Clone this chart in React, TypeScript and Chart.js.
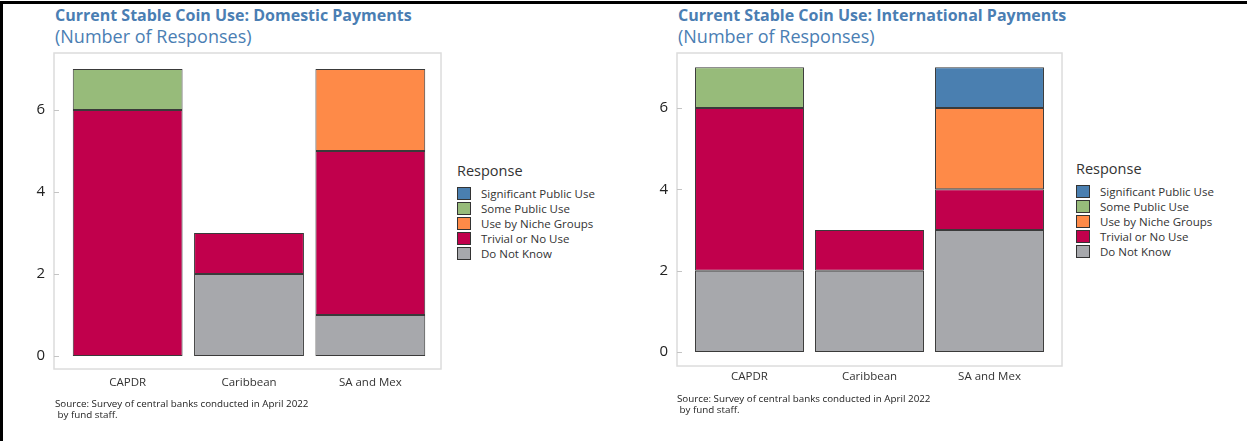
import React, { useEffect, useRef } from "react";
import { Chart, registerables } from "chart.js";

Chart.register(...registerables);

// ---------- data ----------
const CATEGORIES = ["CAPDR", "Caribbean", "SA and Mex"];

const RESPONSES = [
  "Significant Public Use",
  "Some Public Use",
  "Use by Niche Groups",
  "Trivial or No Use",
  "Do Not Know",
];
const RESPONSE_COLORS = ["#4a7fb0", "#97bb7a", "#fe8a48", "#c1004c", "#a7a8ac"];

// Domestic payments (number of responses)
const DOMESTIC_SIGNIFICANT = [0, 0, 0];
const DOMESTIC_SOME = [1, 0, 0];
const DOMESTIC_NICHE = [0, 0, 2];
const DOMESTIC_TRIVIAL = [6, 1, 4];
const DOMESTIC_DNK = [0, 2, 1];

// International payments (number of responses)
const INTL_SIGNIFICANT = [0, 0, 1];
const INTL_SOME = [1, 0, 0];
const INTL_NICHE = [0, 0, 2];
const INTL_TRIVIAL = [4, 1, 1];
const INTL_DNK = [2, 2, 3];

const Y_TICKS = [0, 2, 4, 6];

const TITLE_DOMESTIC = "Current Stable Coin Use: Domestic Payments";
const TITLE_INTL = "Current Stable Coin Use: International Payments";
const SUBTITLE = "(Number of Responses)";
const SOURCE_LINE1 = "Source: Survey of central banks conducted in April 2022";
const SOURCE_LINE2 = " by fund staff.";
const LEGEND_TITLE = "Response";

const FONT = "'Open Sans', 'Noto Sans', sans-serif";
const TITLE_COLOR = "#4a7eb3";

type Geo = {
  x: number;
  y: number;
  w: number;
  h: number;
  yAxisW: number;
  padTop: number;
  padRight: number;
  xAxisH: number;
  xPad: number;
  yPad: number;
  panelL: number;
  panelR: number;
  min: number;
  max: number;
  barPct: number;
};

function StackedChart({ series, geo }: { series: number[][]; geo: Geo }) {
  const ref = useRef<HTMLCanvasElement>(null);
  useEffect(() => {
    const canvas = ref.current!;
    const panelPlugin = {
      id: "panel",
      beforeDatasetsDraw(chart: any) {
        const { ctx, chartArea } = chart;
        const ys = chart.scales.y;
        const l = chartArea.left - geo.panelL;
        const r = chartArea.right + geo.panelR;
        ctx.save();
        ctx.strokeStyle = "#dcdcdc";
        ctx.lineWidth = 1.5;
        ctx.strokeRect(l, chartArea.top, r - l, chartArea.bottom - chartArea.top);
        ctx.strokeStyle = "#c4c4c4";
        ctx.lineWidth = 1;
        Y_TICKS.forEach((v) => {
          const py = Math.round(ys.getPixelForValue(v)) + 0.5;
          ctx.beginPath();
          ctx.moveTo(l, py);
          ctx.lineTo(l + 5, py);
          ctx.stroke();
        });
        ctx.restore();
      },
    };
    // bottom-first stacking order: Do Not Know, Trivial, Niche, Some, Significant
    const order = [4, 3, 2, 1, 0];
    const chart = new Chart(canvas, {
      type: "bar",
      data: {
        labels: CATEGORIES,
        datasets: order.map((i) => ({
          label: RESPONSES[i],
          data: series[i].map((v) => (v === 0 ? null : v)),
          backgroundColor: RESPONSE_COLORS[i],
          borderColor: "#3a3a3a",
          borderWidth: 1,
          borderSkipped: false,
          barPercentage: geo.barPct,
          categoryPercentage: 1,
        })),
      },
      options: {
        responsive: false,
        animation: false,
        devicePixelRatio: 1,
        layout: { padding: { top: geo.padTop, right: geo.padRight, left: 0, bottom: 0 } },
        plugins: {
          legend: { display: false },
          tooltip: { enabled: false },
          title: { display: false },
        },
        scales: {
          x: {
            stacked: true,
            grid: { display: false, drawTicks: false },
            border: { display: false },
            ticks: {
              color: "#333",
              font: { family: FONT, size: 11.5 },
              padding: geo.xPad,
              maxRotation: 0,
            },
            afterFit: (s: any) => {
              s.height = geo.xAxisH;
              s.paddingLeft = 0;
              s.paddingRight = 0;
            },
          },
          y: {
            stacked: true,
            min: geo.min,
            max: geo.max,
            grid: { display: false, drawTicks: false },
            border: { display: false },
            afterBuildTicks: (s: any) => {
              s.ticks = Y_TICKS.map((v) => ({ value: v }));
            },
            ticks: {
              color: "#222",
              font: { family: FONT, size: 15 },
              padding: geo.yPad,
            },
            afterFit: (s: any) => {
              s.width = geo.yAxisW;
              s.paddingTop = 0;
              s.paddingBottom = 0;
            },
          },
        },
      },
      plugins: [panelPlugin],
    } as any);
    return () => chart.destroy();
  }, []);
  return (
    <canvas
      ref={ref}
      width={geo.w}
      height={geo.h}
      style={{ position: "absolute", left: geo.x, top: geo.y, width: geo.w, height: geo.h }}
    />
  );
}

function Legend({ x, y }: { x: number; y: number }) {
  return (
    <div style={{ position: "absolute", left: x, top: y, fontFamily: FONT, color: "#333" }}>
      <div style={{ fontSize: 14.5, lineHeight: "18px", marginBottom: 6 }}>{LEGEND_TITLE}</div>
      {RESPONSES.map((r, i) => (
        <div key={r} style={{ display: "flex", alignItems: "center", height: 15 }}>
          <div
            style={{
              width: 14,
              height: 13,
              background: RESPONSE_COLORS[i],
              border: "1px solid #333",
              boxSizing: "border-box",
              marginRight: 10,
            }}
          />
          <div style={{ fontSize: 11.5, lineHeight: "15px", whiteSpace: "nowrap" }}>{r}</div>
        </div>
      ))}
    </div>
  );
}

function Titles({ x, title }: { x: number; title: string }) {
  return (
    <div style={{ position: "absolute", left: x, top: 5, fontFamily: FONT, color: TITLE_COLOR, whiteSpace: "nowrap" }}>
      <div style={{ fontSize: 16, fontWeight: 700, lineHeight: "20px" }}>{title}</div>
      <div style={{ fontSize: 18, lineHeight: "23px" }}>{SUBTITLE}</div>
    </div>
  );
}

function Source({ x, y }: { x: number; y: number }) {
  return (
    <div
      style={{
        position: "absolute",
        left: x,
        top: y,
        fontFamily: FONT,
        fontSize: 9.8,
        lineHeight: "11px",
        color: "#222",
        whiteSpace: "pre",
      }}
    >
      <div>{SOURCE_LINE1}</div>
      <div>{SOURCE_LINE2}</div>
    </div>
  );
}

export default function App() {
  const geo1: Geo = {
    x: 0,
    y: 40,
    w: 450,
    h: 360,
    yAxisW: 67,
    padTop: 13,
    padRight: 19,
    xAxisH: 31,
    xPad: 7,
    yPad: 22,
    panelL: 13,
    panelR: 10,
    min: -0.317,
    max: 7.39,
    barPct: 0.905,
  };
  const geo2: Geo = {
    x: 620,
    y: 40,
    w: 450,
    h: 360,
    yAxisW: 69.5,
    padTop: 13,
    padRight: 20.5,
    xAxisH: 34,
    xPad: 4,
    yPad: 21.5,
    panelL: 12.5,
    panelR: 12.5,
    min: -0.344,
    max: 7.352,
    barPct: 0.908,
  };
  const domestic = [DOMESTIC_SIGNIFICANT, DOMESTIC_SOME, DOMESTIC_NICHE, DOMESTIC_TRIVIAL, DOMESTIC_DNK];
  const intl = [INTL_SIGNIFICANT, INTL_SOME, INTL_NICHE, INTL_TRIVIAL, INTL_DNK];
  return (
    <div style={{ position: "absolute", left: 0, top: 0, width: 1247, height: 441, background: "#fff", overflow: "hidden" }}>
      <div
        style={{
          position: "absolute",
          left: 0,
          top: 1,
          width: 1247,
          height: 440,
          borderTop: "3px solid #000",
          borderLeft: "3px solid #000",
          boxSizing: "border-box",
        }}
      />
      <Titles x={55} title={TITLE_DOMESTIC} />
      <Titles x={678} title={TITLE_INTL} />
      <StackedChart series={domestic} geo={geo1} />
      <StackedChart series={intl} geo={geo2} />
      <Legend x={457} y={162} />
      <Legend x={1076} y={160} />
      <Source x={55} y={398} />
      <Source x={677} y={393} />
    </div>
  );
}
